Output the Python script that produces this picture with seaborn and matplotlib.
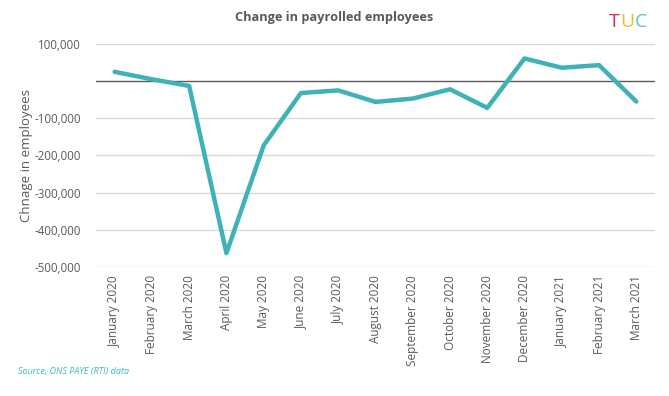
import matplotlib
matplotlib.use("Agg")
import matplotlib.pyplot as plt
import seaborn as sns
import pandas as pd
from matplotlib.ticker import FuncFormatter

# months shown on the x axis
months = ["January 2020", "February 2020", "March 2020", "April 2020", "May 2020",
          "June 2020", "July 2020", "August 2020", "September 2020", "October 2020",
          "November 2020", "December 2020", "January 2021", "February 2021", "March 2021"]
# change in payrolled employees
change = [25000, 5000, -13000, -463000, -173000, -32000, -25000, -56000,
          -47000, -22000, -72000, 61000, 36000, 43000, -55000]
yticks = [100000, -100000, -200000, -300000, -400000, -500000]

df = pd.DataFrame({"month": months, "change": change, "pos": range(len(months))})

sns.set_style("white")
plt.rcParams['font.family'] = ['Open Sans', 'DejaVu Sans']
grey = "#595959"
teal = "#3fb1b7"

fig = plt.figure(figsize=(6.69, 3.96), dpi=100)
ax = fig.add_axes([0.1435, 0.326, 0.8355, 0.563])

for y in yticks:
    ax.axhline(y, color="#d9d9d9", lw=1, zorder=0)
ax.axhline(0, color=grey, lw=1, zorder=1)

sns.lineplot(data=df, x="pos", y="change", color=teal, lw=3.2, ax=ax, zorder=3)

ax.set_xlim(-0.5, len(months) - 0.5)
ax.set_ylim(-500000, 100000)
ax.set_yticks(yticks)
ax.yaxis.set_major_formatter(FuncFormatter(lambda v, p: f"{int(v):,}"))
ax.set_xticks(range(len(months)))
ax.set_xticklabels(months, rotation=90, fontsize=8.5, color=grey)
ax.tick_params(axis="y", labelsize=8.3, labelcolor=grey, length=0, pad=11)
ax.tick_params(axis="x", length=0, pad=6)
for s in ax.spines.values():
    s.set_visible(False)
ax.set_xlabel("")
ax.set_ylabel("Chnage in employees", fontsize=9.5, color=grey)
ax.yaxis.label.set_va("center")
ax.yaxis.set_label_coords(-0.125, 0.5)

fig.text(0.5, 0.955, "Change in payrolled employees", ha="center", va="center",
         fontsize=9.2, fontweight="bold", color=grey)
fig.text(0.027, 0.063, "Source, ONS PAYE (RTI) data", ha="left", va="center",
         fontsize=6.5, style="italic", color="#3fb5c4")

# TUC logo letters
fig.text(0.910, 0.945, "T", ha="left", va="center", fontsize=14, color="#e2245e")
fig.text(0.927, 0.945, "U", ha="left", va="center", fontsize=14, color="#e0c22f")
fig.text(0.949, 0.945, "C", ha="left", va="center", fontsize=14, color="#5cbfc9")

fig.savefig("out.png", dpi=100)
